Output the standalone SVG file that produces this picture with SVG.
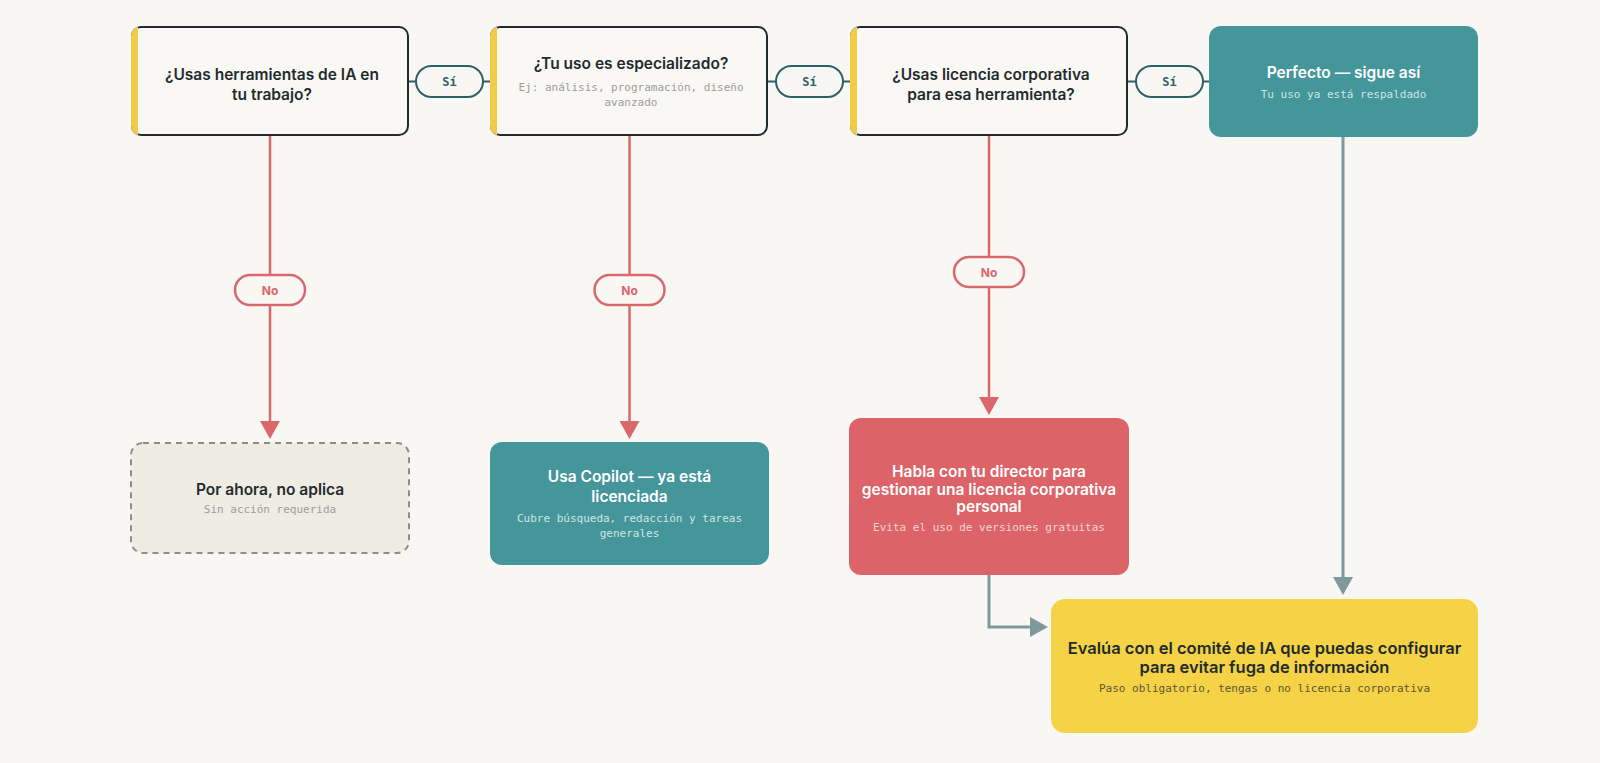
<svg xmlns="http://www.w3.org/2000/svg" width="1600" height="763" viewBox="0 0 1600 763">
<defs>
<style>
.bg{fill:#f8f7f3}
.qcard{fill:#f9f8f4}
.qborder{fill:none;stroke:#1f2b2c;stroke-width:2}
.qbar{fill:#f2cc47}
.title{font-family:Inter,"Noto Sans",sans-serif;font-weight:600;font-size:15.5px;text-anchor:middle;dominant-baseline:central}
.sub{font-family:"DejaVu Sans Mono","Liberation Mono",monospace;font-size:11px;text-anchor:middle;dominant-baseline:central}
.dark{fill:#1f2b2c}
.white{fill:#ffffff}
.teal{fill:#44969b}
.red{fill:#dc6468}
.yellow{fill:#f5d246}
.grey-sub{fill:#9d9d98}
.teal-sub{fill:#cfe5e5}
.red-sub{fill:#f8d3d2}
.yel-sub{fill:#5e5532}
.yes-line{fill:none;stroke:#2e6165;stroke-width:2}
.yes-pill{fill:#f8f7f3;stroke:#2e6165;stroke-width:2}
.yes-txt{font-family:"DejaVu Sans Mono",monospace;font-weight:bold;font-size:12px;fill:#2e6165;text-anchor:middle;dominant-baseline:central}
.no-line{fill:none;stroke:#d9676b;stroke-width:2.5}
.no-pill{fill:#f8f7f3;stroke:#d9676b;stroke-width:2.5}
.no-txt{font-family:Inter,sans-serif;font-weight:bold;font-size:12px;fill:#d9676b;text-anchor:middle;dominant-baseline:central}
.grey-line{fill:none;stroke:#7f989c;stroke-width:3}
</style>
<clipPath id="qclip" clipPathUnits="userSpaceOnUse"><rect x="0" y="0" width="278" height="110" rx="10"/></clipPath>
<marker id="arrRed" markerUnits="userSpaceOnUse" viewBox="0 0 18 20" markerWidth="18" markerHeight="20" refX="2" refY="10" orient="auto"><path d="M0,0 L18,10 L0,20 z" fill="#d9676b"/></marker>
<marker id="arrGrey" markerUnits="userSpaceOnUse" viewBox="0 0 18 20" markerWidth="18" markerHeight="20" refX="2" refY="10" orient="auto"><path d="M0,0 L18,10 L0,20 z" fill="#7f989c"/></marker>
</defs>
<rect class="bg" x="0" y="0" width="1600" height="763"/>

<g id="connectors">
  <!-- Sí connectors -->
  <path class="yes-line" d="M409,81.5 H416 M483,81.5 H490"/>
  <rect class="yes-pill" x="416" y="66" width="67" height="31" rx="15.5"/>
  <text class="yes-txt" x="449.5" y="81.5">Sí</text>
  <path class="yes-line" d="M768,81.5 H776 M843,81.5 H850"/>
  <rect class="yes-pill" x="776" y="66" width="67" height="31" rx="15.5"/>
  <text class="yes-txt" x="809.5" y="81.5">Sí</text>
  <path class="yes-line" d="M1128,81.5 H1136 M1203,81.5 H1209"/>
  <rect class="yes-pill" x="1136" y="66" width="67" height="31" rx="15.5"/>
  <text class="yes-txt" x="1169.5" y="81.5">Sí</text>
  <!-- No connectors -->
  <path class="no-line" d="M270,136 V275"/>
  <path class="no-line" d="M270,305 V423" marker-end="url(#arrRed)"/>
  <rect class="no-pill" x="235" y="275" width="70" height="30" rx="15"/>
  <text class="no-txt" x="270" y="290">No</text>
  <path class="no-line" d="M629.5,136 V275"/>
  <path class="no-line" d="M629.5,305 V423" marker-end="url(#arrRed)"/>
  <rect class="no-pill" x="594.5" y="275" width="70" height="30" rx="15"/>
  <text class="no-txt" x="629.5" y="290">No</text>
  <path class="no-line" d="M989,136 V257"/>
  <path class="no-line" d="M989,287 V399" marker-end="url(#arrRed)"/>
  <rect class="no-pill" x="954" y="257" width="70" height="30" rx="15"/>
  <text class="no-txt" x="989" y="272">No</text>
  <!-- grey connectors -->
  <path class="grey-line" d="M1343,136 V579" marker-end="url(#arrGrey)"/>
  <path class="grey-line" d="M989,575 V627 H1032" marker-end="url(#arrGrey)"/>
</g>

<g id="q1" transform="translate(131,26)">
  <rect class="qcard" x="0" y="0" width="278" height="110" rx="10"/>
  <rect class="qborder" x="1" y="1" width="276" height="108" rx="9"/>
  <rect class="qbar" x="0" y="0" width="7" height="110" clip-path="url(#qclip)"/>
  <text class="title dark" x="141" y="48.5">¿Usas herramientas de IA en</text>
  <text class="title dark" x="141" y="68">tu trabajo?</text>
</g>

<g id="q2" transform="translate(490,26)">
  <rect class="qcard" x="0" y="0" width="278" height="110" rx="10"/>
  <rect class="qborder" x="1" y="1" width="276" height="108" rx="9"/>
  <rect class="qbar" x="0" y="0" width="7" height="110" clip-path="url(#qclip)"/>
  <text class="title dark" x="141" y="37.5">¿Tu uso es especializado?</text>
  <text class="sub grey-sub" x="141" y="61">Ej: análisis, programación, diseño</text>
  <text class="sub grey-sub" x="141" y="76">avanzado</text>
</g>

<g id="q3" transform="translate(850,26)">
  <rect class="qcard" x="0" y="0" width="278" height="110" rx="10"/>
  <rect class="qborder" x="1" y="1" width="276" height="108" rx="9"/>
  <rect class="qbar" x="0" y="0" width="7" height="110" clip-path="url(#qclip)"/>
  <text class="title dark" x="141" y="48.5">¿Usas licencia corporativa</text>
  <text class="title dark" x="141" y="68">para esa herramienta?</text>
</g>

<g id="perfecto">
  <rect class="teal" x="1209" y="26" width="269" height="111" rx="12"/>
  <text class="title white" x="1343.5" y="72.5">Perfecto — sigue así</text>
  <text class="sub teal-sub" x="1343.5" y="94">Tu uso ya está respaldado</text>
</g>

<g id="no-aplica">
  <rect x="131" y="443" width="278" height="110" rx="12" fill="#efece4" stroke="#8d8e89" stroke-width="2" stroke-dasharray="6,5"/>
  <text class="title dark" x="270" y="489">Por ahora, no aplica</text>
  <text class="sub grey-sub" x="270" y="509.5">Sin acción requerida</text>
</g>

<g id="copilot">
  <rect class="teal" x="490" y="442" width="279" height="123" rx="12"/>
  <text class="title white" x="629.5" y="476.5">Usa Copilot — ya está</text>
  <text class="title white" x="629.5" y="496">licenciada</text>
  <text class="sub teal-sub" x="629.5" y="518.5">Cubre búsqueda, redacción y tareas</text>
  <text class="sub teal-sub" x="629.5" y="533.5">generales</text>
</g>

<g id="habla">
  <rect class="red" x="849" y="418" width="280" height="157" rx="12"/>
  <text class="title white" x="989" y="471.5">Habla con tu director para</text>
  <text class="title white" x="989" y="489">gestionar una licencia corporativa</text>
  <text class="title white" x="989" y="506.5">personal</text>
  <text class="sub red-sub" x="989" y="527">Evita el uso de versiones gratuitas</text>
</g>

<g id="evalua">
  <rect class="yellow" x="1051" y="599" width="427" height="134" rx="14"/>
  <text class="title dark" x="1264.5" y="648" style="font-size:16.5px">Evalúa con el comité de IA que puedas configurar</text>
  <text class="title dark" x="1264.5" y="667" style="font-size:16.5px">para evitar fuga de información</text>
  <text class="sub yel-sub" x="1264.5" y="688.5">Paso obligatorio, tengas o no licencia corporativa</text>
</g>
</svg>
